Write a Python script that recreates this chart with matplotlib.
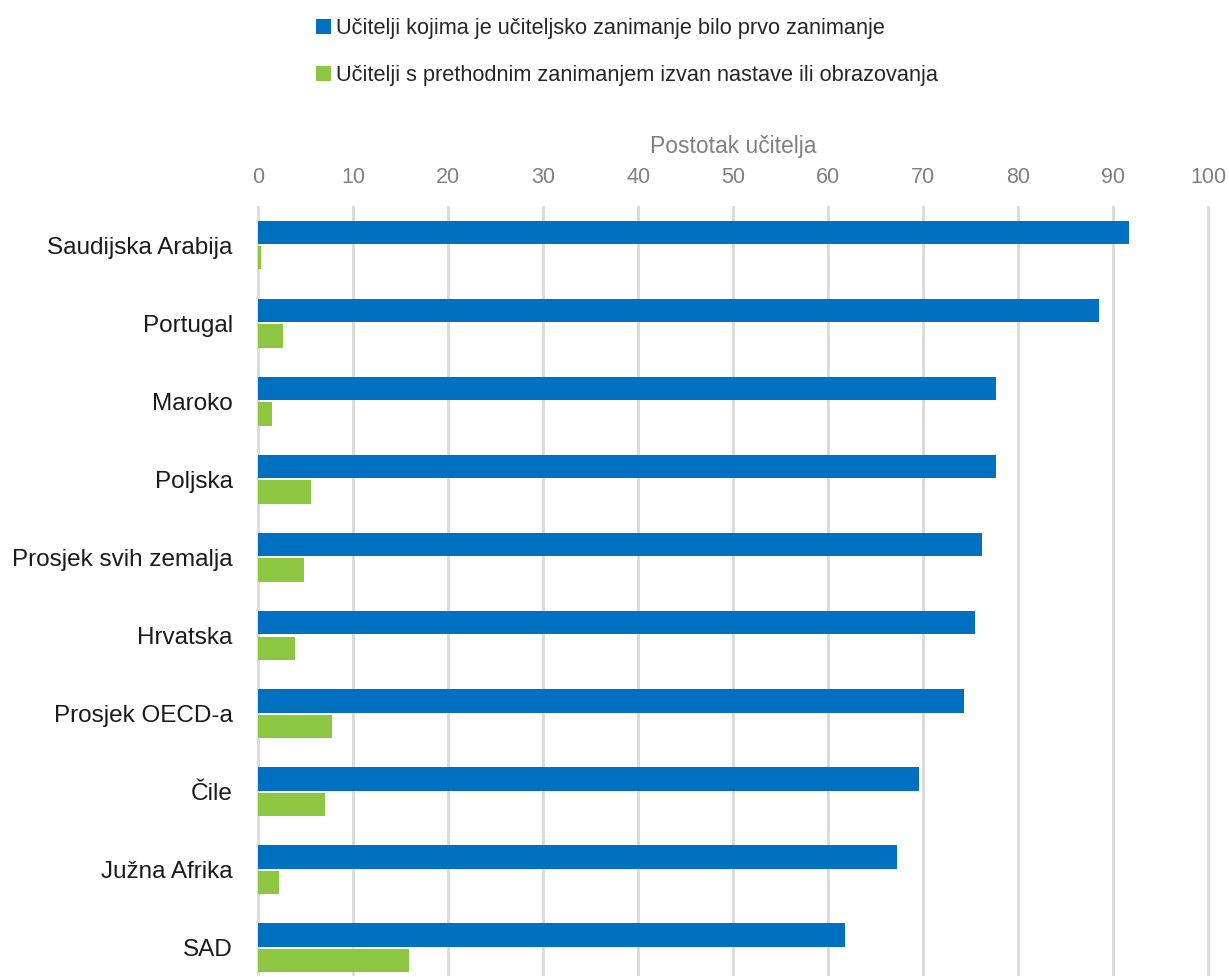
import numpy as np
import matplotlib
matplotlib.use("Agg")
import matplotlib.pyplot as plt

plt.rcParams['font.family'] = ['Liberation Sans', 'DejaVu Sans']

# data
countries = ["Saudijska Arabija", "Portugal", "Maroko", "Poljska", "Prosjek svih zemalja",
             "Hrvatska", "Prosjek OECD-a", "Čile", "Južna Afrika", "SAD"]
first_career = [91.7, 88.5, 77.7, 77.7, 76.2, 75.4, 74.3, 69.6, 67.2, 61.8]
outside_career = [0.3, 2.6, 1.4, 5.6, 4.8, 3.9, 7.8, 7.0, 2.2, 15.9]
series_names = ["Učitelji kojima je učiteljsko zanimanje bilo prvo zanimanje",
                "Učitelji s prethodnim zanimanjem izvan nastave ili obrazovanja"]
xticks = [0, 10, 20, 30, 40, 50, 60, 70, 80, 90, 100]
xlabel = "Postotak učitelja"

BLUE = "#0070c0"
GREEN = "#8dc641"
GRAY = "#808080"

W, H = 1229, 977
fig = plt.figure(figsize=(W / 100, H / 100), dpi=100)
# axes box in pixels (left, top, right, bottom)
l, t, r, b = 256.4, 206, 1210.2, 976
ax = fig.add_axes([l / W, 1 - b / H, (r - l) / W, (b - t) / H])

y = np.arange(len(countries))
bh = 0.30
off = 0.163
b1 = ax.barh(y - off, first_career, height=bh, color=BLUE, label=series_names[0], zorder=3)
b2 = ax.barh(y + off, outside_career, height=bh, color=GREEN, label=series_names[1], zorder=3)

ax.set_xlim(-0.2, 100.2)
ax.set_ylim(9.36, -0.5)

ax.xaxis.tick_top()
ax.xaxis.set_label_position('top')
ax.set_xticks(xticks)
ax.set_xticklabels([str(v) for v in xticks])
ax.tick_params(axis='x', length=0, pad=13, labelsize=15.5, labelcolor=GRAY)
ax.set_xlabel(xlabel, fontsize=16.5, color=GRAY, labelpad=10)

ax.set_yticks(y)
ax.set_yticklabels(countries)
ax.tick_params(axis='y', length=0, pad=17, labelsize=17.5, labelcolor='#1a1a1a')

ax.grid(axis='x', color='#d9d9d9', linewidth=2, zorder=0)
ax.grid(axis='y', visible=False)
ax.set_axisbelow(True)
for s in ax.spines.values():
    s.set_visible(False)

fig.legend(handles=[b1, b2], loc='upper left', bbox_to_anchor=(316 / W, 1 - 18 / H),
           frameon=False, fontsize=15.7, handlelength=0.68, handleheight=0.68,
           handletextpad=0.25, labelspacing=1.2, borderaxespad=0, borderpad=0,
           labelcolor='#262626')

fig.savefig("out.png", dpi=100)
